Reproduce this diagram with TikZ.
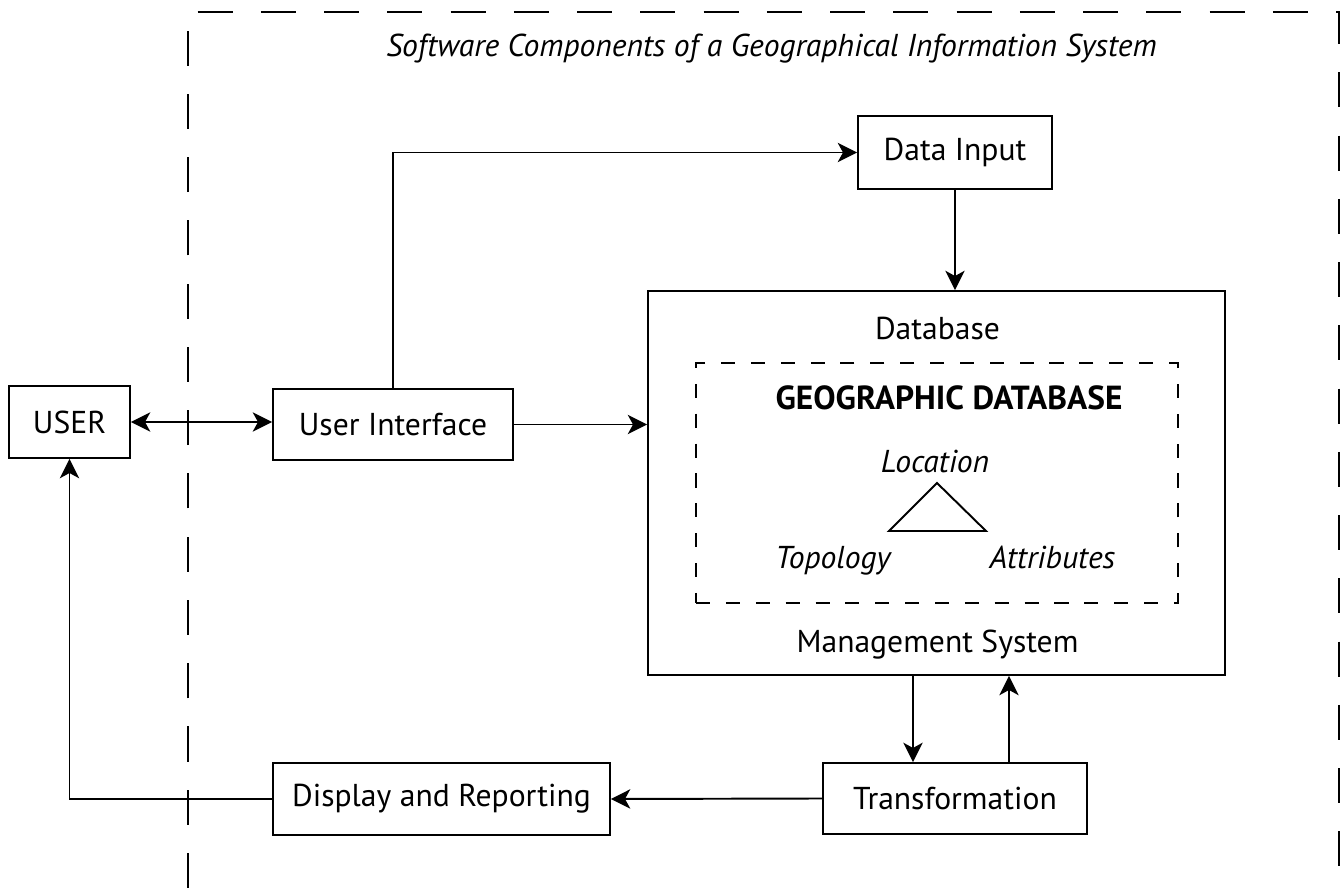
\documentclass[tikz,border=0pt]{standalone}
\usepackage{fontspec}
\setmainfont{PT Sans}
\usetikzlibrary{arrows.meta}

\begin{document}
\begin{tikzpicture}[x=0.02cm, y=-0.02cm, font=\fontsize{18}{21}\selectfont]
		\tikzset{box/.style = {shape=rectangle, draw, line width=1.1pt, inner sep=0pt},
			link/.style = {line width=1.1pt, -{Stealth[length=11pt, width=11pt, inset=3pt]}},
			frame/.style = {line width=1.1pt, dash pattern=on 20pt off 16pt},
			word/.style = {anchor=base, font=\fontsize{18}{21}\selectfont\itshape}}

		\useasboundingbox (0,0) rectangle (1343,888);

		% outer frame, open at the bottom
		\draw[frame] (188,888) -- (188,12) -- (1339,12) -- (1339,888);
		\node[word] (title) at (771.5,57) {Software Components of a Geographical Information System};

		\node[box, minimum width=2.42cm, minimum height=1.44cm] (user) at (69.5,422) {USER};
		\node[box, minimum width=4.8cm, minimum height=1.42cm] (ui) at (393,424.5) {User Interface};
		\node[box, minimum width=3.88cm, minimum height=1.46cm] (input) at (955,152.5) {Data Input};
		\node[box, minimum width=11.54cm, minimum height=7.68cm] (db) at (936.5,483) {};
		\node[box, minimum width=5.28cm, minimum height=1.42cm] (trans) at (955,798.5) {Transformation};
		\node[box, minimum width=6.74cm, minimum height=1.44cm] (disp) at (441.5,799) {Display and Reporting};

		% inside the database box
		\node[anchor=base] (dbtop) at (937.5,340) {Database};
		\node[anchor=base] (dbbottom) at (937.5,652) {Management System};
		\node[box, dash pattern=on 8pt off 9pt, minimum width=9.64cm, minimum height=4.8cm] (geo) at (937,483) {};
		\node[anchor=base, font=\fontsize{19}{22}\selectfont\bfseries] (geotitle) at (949,410) {GEOGRAPHIC DATABASE};
		\node[word] (loc) at (935,473) {Location};
		\node[word] (topo) at (833,568) {Topology};
		\node[word] (attr) at (1052.5,568) {Attributes};
		\draw[line width=1.1pt] (937,483) -- (986,531) -- (889,531) -- cycle;

		\draw[link, {Stealth[length=11pt, width=11pt, inset=3pt]}-{Stealth[length=11pt, width=11pt, inset=3pt]}] (user.east) -- (ui.west |- user.east);
		\draw[link] (ui.east) -- (db.west |- ui.east);
		\draw[link] (ui.north) |- (input.west);
		\draw[link] (input.south) -- (input.south |- db.north);
		\draw[link] (913,0 |- db.south) -- (913,0 |- trans.north);
		\draw[link] (1009,0 |- trans.north) -- (1009,0 |- db.south);
		\draw[link] (trans.west) -- (disp.east);
		\draw[link] (disp.west) -| (user.south);

	\end{tikzpicture}
\end{document}
